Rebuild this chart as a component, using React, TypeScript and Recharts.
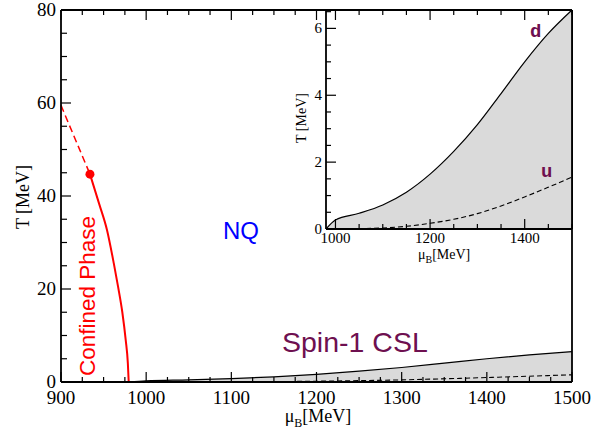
import { Area, ComposedChart, Line, Scatter, XAxis, YAxis } from 'recharts'

// CSL boundaries (d: solid, u: dashed)
const mu = [980, 1000, 1050, 1100, 1150, 1200, 1250, 1300, 1350, 1400, 1450, 1500]
const dT = [0, 0.27, 0.47, 0.72, 1.1, 1.64, 2.32, 3.12, 4.05, 5.0, 5.85, 6.55]
const uT = [0, 0, 0.01, 0.03, 0.08, 0.17, 0.29, 0.46, 0.69, 0.96, 1.25, 1.55]

// confinement line
const redDashMu = [900, 934]
const redDashT = [59.5, 44.7]
const redSolidMu = [934, 945, 954, 962, 967, 972, 976, 978.5, 979.5]
const redSolidT = [44.7, 38.2, 32.7, 25.5, 20.5, 15, 9, 4, 0]
const endPoint = { mu: 934, T: 44.7 }

const mainXTicks = [900, 925, 950, 975, 1000, 1025, 1050, 1075, 1100, 1125, 1150, 1175, 1200, 1225, 1250, 1275, 1300, 1325, 1350, 1375, 1400, 1425, 1450, 1475, 1500]
const mainYTicks = [0, 5, 10, 15, 20, 25, 30, 35, 40, 45, 50, 55, 60, 65, 70, 75, 80]
const insetXTicks = [1000, 1050, 1100, 1150, 1200, 1250, 1300, 1350, 1400, 1450, 1500]
const insetYTicks = [0, 0.5, 1, 1.5, 2, 2.5, 3, 3.5, 4, 4.5, 5, 5.5, 6, 6.5]

const table = mu.map((m, i) => ({ mu: m, d: dT[i], u: uT[i] }))
const redDash = redDashMu.map((m, i) => ({ mu: m, T: redDashT[i] }))
const redSolid = redSolidMu.map((m, i) => ({ mu: m, T: redSolidT[i] }))

const serif = 'Liberation Serif, Times New Roman, serif'
const sans = 'Liberation Sans, Arial, sans-serif'
const purple = '#6e1050'

type Side = 'bottom' | 'top' | 'left' | 'right'

function makeTick(side: Side, isMajor: (v: number) => boolean, majorLen: number, minorLen: number, fontSize = 0, gap = 0) {
  return (props: any) => {
    const { x, y, payload } = props
    const v = payload.value
    const major = isMajor(v)
    const len = major ? majorLen : minorLen
    let x2 = x
    let y2 = y
    if (side === 'bottom') y2 = y - len
    if (side === 'top') y2 = y + len
    if (side === 'left') x2 = x + len
    if (side === 'right') x2 = x - len
    let label = null
    if (fontSize && major) {
      if (side === 'bottom')
        label = <text x={x} y={y + gap} textAnchor="middle" fontSize={fontSize} fontFamily={serif} fill="#000">{v}</text>
      if (side === 'left')
        label = <text x={x - gap} y={y + fontSize * 0.3} textAnchor="end" fontSize={fontSize} fontFamily={serif} fill="#000">{v}</text>
    }
    return (
      <g>
        <line x1={x} y1={y} x2={x2} y2={y2} stroke="#000" strokeWidth={1.2} />
        {label}
      </g>
    )
  }
}

const axisLine = { stroke: '#000', strokeWidth: 1.8 }

export default function App() {
  return (
    <div style={{ position: 'absolute', left: 0, top: 0, width: 607, height: 429, background: '#fff' }}>
      <div style={{ position: 'absolute', left: 0, top: 0 }}>
        <ComposedChart width={607} height={429} data={table} margin={{ top: 9, right: 34, bottom: 46, left: 60 }}>
          <XAxis dataKey="mu" type="number" domain={[900, 1500]} ticks={mainXTicks} interval={0} height={1}
            tickSize={0} tickMargin={0} tickLine={false} axisLine={axisLine}
            tick={makeTick('bottom', (v) => v % 100 === 0, 10, 5, 19, 22)} />
          <XAxis xAxisId="top" orientation="top" dataKey="mu" type="number" domain={[900, 1500]} ticks={mainXTicks} interval={0} height={1}
            tickSize={0} tickMargin={0} tickLine={false} axisLine={axisLine}
            tick={makeTick('top', (v) => v % 100 === 0, 10, 5)} />
          <YAxis type="number" domain={[0, 80]} ticks={mainYTicks} interval={0} width={1}
            tickSize={0} tickMargin={0} tickLine={false} axisLine={axisLine}
            tick={makeTick('left', (v) => v % 20 === 0, 10, 6, 19, 5)} />
          <YAxis yAxisId="right" orientation="right" type="number" domain={[0, 80]} ticks={mainYTicks} interval={0} width={1}
            tickSize={0} tickMargin={0} tickLine={false} axisLine={axisLine}
            tick={makeTick('right', (v) => v % 20 === 0, 10, 6)} />
          <Area dataKey="d" type="monotone" stroke="#000" strokeWidth={1.2} fill="#dadada" fillOpacity={1} isAnimationActive={false} />
          <Line dataKey="u" type="monotone" stroke="#000" strokeWidth={1.1} strokeDasharray="5 3" dot={false} isAnimationActive={false} />
          <Line data={redDash} dataKey="T" type="linear" stroke="#ff0000" strokeWidth={1.5} strokeDasharray="7 4" dot={false} isAnimationActive={false} />
          <Line data={redSolid} dataKey="T" type="monotone" stroke="#ff0000" strokeWidth={2} dot={false} isAnimationActive={false} />
          <Scatter data={[endPoint]} dataKey="T" isAnimationActive={false}
            shape={(p: any) => <circle cx={p.cx} cy={p.cy} r={4.5} fill="#ff0000" />} />
        </ComposedChart>
      </div>

      <div style={{ position: 'absolute', left: 326, top: 10, width: 246, height: 219, background: '#fff' }} />

      <div style={{ position: 'absolute', left: 280, top: 0 }}>
        <ComposedChart width={327} height={265} data={table} margin={{ top: 9, right: 34, bottom: 35, left: 45 }}>
          <XAxis dataKey="mu" type="number" domain={[980, 1500]} ticks={insetXTicks} interval={0} height={1}
            tickSize={0} tickMargin={0} tickLine={false} axisLine={axisLine}
            tick={makeTick('bottom', (v) => v % 200 === 0, 10, 5, 15, 14)} />
          <XAxis xAxisId="top" orientation="top" dataKey="mu" type="number" domain={[980, 1500]} ticks={insetXTicks} interval={0} height={1}
            tickSize={0} tickMargin={0} tickLine={false} axisLine={axisLine}
            tick={makeTick('top', (v) => v % 200 === 0, 10, 5)} />
          <YAxis type="number" domain={[0, 6.5]} ticks={insetYTicks} interval={0} width={1}
            tickSize={0} tickMargin={0} tickLine={false} axisLine={axisLine}
            tick={makeTick('left', (v) => v % 2 === 0, 10, 5, 15, 4)} />
          <YAxis yAxisId="right" orientation="right" type="number" domain={[0, 6.5]} ticks={insetYTicks} interval={0} width={1}
            tickSize={0} tickMargin={0} tickLine={false} axisLine={axisLine}
            tick={makeTick('right', (v) => v % 2 === 0, 10, 5)} />
          <Area dataKey="d" type="monotone" stroke="#000" strokeWidth={1.2} fill="#dadada" fillOpacity={1} isAnimationActive={false} />
          <Line dataKey="u" type="monotone" stroke="#000" strokeWidth={1.1} strokeDasharray="5 3" dot={false} isAnimationActive={false} />
        </ComposedChart>
      </div>

      <svg width={607} height={429} style={{ position: 'absolute', left: 0, top: 0, pointerEvents: 'none' }}>
        <text x={223} y={239} fontFamily={sans} fontSize={24} fill="#0000ff">NQ</text>
        <text x={282} y={352} fontFamily={sans} fontSize={28.5} fill={purple}>Spin-1 CSL</text>
        <text transform="translate(95,376) rotate(-90)" fontFamily={sans} fontSize={22.5} fill="#ff0000">Confined Phase</text>
        <text x={530} y={37} fontFamily="Liberation Mono, Courier New, monospace" fontWeight="bold" fontSize={19} fill={purple}>d</text>
        <text x={541} y={177} fontFamily="Liberation Mono, Courier New, monospace" fontWeight="bold" fontSize={19} fill={purple}>u</text>

        <text transform="translate(29,197) rotate(-90)" textAnchor="middle" fontFamily={serif} fontSize={18} fill="#000">T [MeV]</text>
        <text x={318} y={422} textAnchor="middle" fontFamily={serif} fontSize={18} fill="#000">
          μ<tspan fontSize={12} dy={5}>B</tspan><tspan dy={-5}>[MeV]</tspan>
        </text>

        <text transform="translate(306,118) rotate(-90)" textAnchor="middle" fontFamily={serif} fontSize={14} fill="#000">T [MeV]</text>
        <text x={418} y={259} fontFamily={serif} fontSize={14} fill="#000">
          μ<tspan fontSize={10} dy={4}>B</tspan><tspan dy={-4}>[MeV]</tspan>
        </text>
      </svg>
    </div>
  )
}
